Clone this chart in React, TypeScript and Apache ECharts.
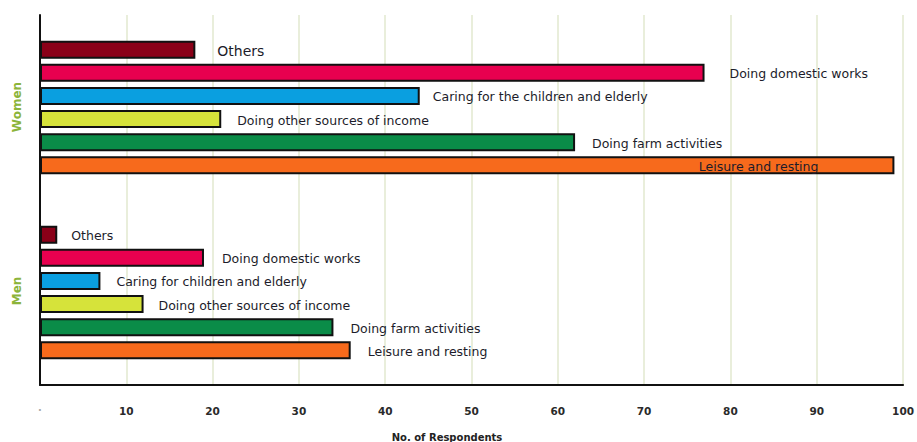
import React, { useEffect, useRef } from "react";
import * as echarts from "echarts";

// Activity labels, top to bottom within each group
const womenActivities = [
  "Others",
  "Doing domestic works",
  "Caring for the children and elderly",
  "Doing other sources of income",
  "Doing farm activities",
  "Leisure and resting",
];
const menActivities = [
  "Others",
  "Doing domestic works",
  "Caring for children and elderly",
  "Doing other sources of income",
  "Doing farm activities",
  "Leisure and resting",
];

// Number of respondents per activity
const womenValues = [18, 77, 44, 21, 62, 99];
const menValues = [2, 19, 7, 12, 34, 36];

// Axis ticks
const xTicks = [0, 10, 20, 30, 40, 50, 60, 70, 80, 90, 100];

// Styling (per activity row)
const activityColors = ["#8a0018", "#e8004f", "#0a9fe0", "#d6e33a", "#0a8c48", "#f76a1c"];
const womenLabelGap = [22, 25, 13, 16, 17, 0];
const menLabelGap = [14, 18, 16, 15, 17, 17];

// Row layout on the category axis: 1 blank, 6 women rows, 2 blank, 6 men rows, 1 blank
const SLOTS = 16;
const WOMEN_START = 1;
const MEN_START = 9;

export default function App() {
  const ref = useRef<HTMLDivElement>(null);

  useEffect(() => {
    document.body.style.margin = "0";
    if (!ref.current) return;
    const chart = echarts.init(ref.current, undefined, { renderer: "svg" });

    const cats = Array.from({ length: SLOTS }, (_, i) => String(i));
    const data: any[] = Array.from({ length: SLOTS }, () => null);

    const makeItem = (
      value: number,
      name: string,
      idx: number,
      gap: number,
      inside: boolean,
      fontSize: number
    ) => ({
      value,
      name,
      itemStyle: { color: activityColors[idx] },
      label: inside
        ? { show: true, position: "insideRight", offset: [-71, 1], formatter: name, fontSize }
        : { show: true, position: "right", distance: gap, offset: [0, 1], formatter: name, fontSize },
    });

    womenValues.forEach((v, i) => {
      data[WOMEN_START + i] = makeItem(
        v,
        womenActivities[i],
        i,
        womenLabelGap[i],
        i === 5,
        i === 0 ? 14 : 12.5
      );
    });
    menValues.forEach((v, i) => {
      data[MEN_START + i] = makeItem(v, menActivities[i], i, menLabelGap[i], false, 12.5);
    });

    chart.setOption({
      animation: false,
      backgroundColor: "#ffffff",
      grid: { left: 40, right: 11, top: 15, bottom: 57, containLabel: false },
      xAxis: {
        type: "value",
        min: xTicks[0],
        max: xTicks[xTicks.length - 1],
        interval: 10,
        axisLine: { show: true, lineStyle: { color: "#111", width: 2 } },
        axisTick: { show: false },
        splitLine: { show: true, lineStyle: { color: "#e2e8cf", width: 1.5 } },
        axisLabel: {
          margin: 20,
          fontFamily: "DejaVu Sans",
          fontSize: 10.5,
          fontWeight: "bold",
          color: "#2a2a2a",
          formatter: (v: number) => (v === 0 ? "{z|·}" : String(v)),
          rich: { z: { color: "#aaa", fontSize: 10 } },
        },
      },
      yAxis: {
        type: "category",
        data: cats,
        inverse: true,
        axisLine: { show: true, onZero: false, lineStyle: { color: "#111", width: 2 } },
        axisTick: { show: false },
        axisLabel: { show: false },
        splitLine: { show: false },
      },
      series: [
        {
          type: "bar",
          data,
          barWidth: 18,
          itemStyle: { borderColor: "#111", borderWidth: 2 },
          label: {
            fontFamily: "DejaVu Sans",
            color: "#1c1c2a",
          },
        },
      ],
      graphic: [
        {
          type: "text",
          x: 17,
          y: 107,
          rotation: Math.PI / 2,
          style: {
            text: "Women",
            fill: "#8cb43a",
            font: "bold 12px DejaVu Sans",
            align: "center",
            verticalAlign: "middle",
          },
        },
        {
          type: "text",
          x: 17,
          y: 291,
          rotation: Math.PI / 2,
          style: {
            text: "Men",
            fill: "#8cb43a",
            font: "bold 12px DejaVu Sans",
            align: "center",
            verticalAlign: "middle",
          },
        },
        {
          type: "text",
          x: 447,
          y: 437,
          style: {
            text: "No. of Respondents",
            fill: "#222",
            font: "bold 10px DejaVu Sans",
            align: "center",
            verticalAlign: "middle",
          },
        },
      ],
    });

    return () => chart.dispose();
  }, []);

  return <div ref={ref} style={{ width: 917, height: 442 }} />;
}
